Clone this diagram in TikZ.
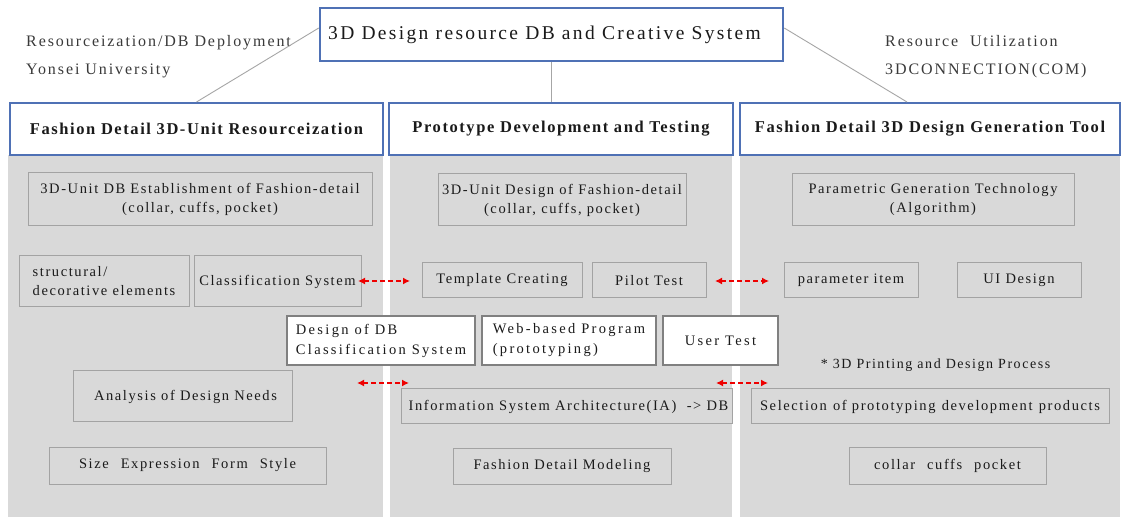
\documentclass[tikz,border=0pt]{standalone}
\usepackage{fontspec}
\setmainfont{Liberation Serif}
\newfontfamily\bodyf{Liberation Serif}[LetterSpace=11]
\newfontfamily\wbf{Liberation Serif}[LetterSpace=16]
\newfontfamily\headf{Liberation Serif}[LetterSpace=9.5]
\newfontfamily\labf{Liberation Serif}[LetterSpace=12]
\newfontfamily\titf{Liberation Serif}[LetterSpace=12]
\usetikzlibrary{arrows.meta}
\definecolor{panelgray}{HTML}{D9D9D9}
\definecolor{boxline}{HTML}{A3A3A3}
\definecolor{hdrblue}{HTML}{4F71B5}
\definecolor{wline}{HTML}{808080}
\definecolor{linkgray}{HTML}{A6A6A6}
\definecolor{arrred}{HTML}{EE0000}
\definecolor{txt}{HTML}{1A1A1A}
\definecolor{labtxt}{HTML}{3A3A3A}
\newcommand\mkbox[7]{%
  \pgfmathsetmacro\bw{#5-#3}\pgfmathsetmacro\bh{#6-#4}%
  \node[#1, minimum width=\bw pt, minimum height=\bh pt] (#2) at ({(#3+#5)/2},{(#4+#6)/2}) {#7};}
\tikzset{
  panel/.style={fill=panelgray, draw=none, inner sep=0pt},
  hdr/.style={draw=hdrblue, line width=2pt, fill=white, inner sep=0pt, text=txt,
    font=\headf\bfseries\fontsize{16.5}{19}\selectfont},
  titlebox/.style={draw=hdrblue, line width=2.5pt, fill=white, inner sep=0pt, text=txt,
    font=\titf\fontsize{19.5}{22}\selectfont},
  ibox/.style={draw=boxline, line width=1pt, fill=panelgray, inner sep=0pt, align=center, text=txt,
    font=\bodyf\fontsize{14.5}{19}\selectfont},
  wbox/.style={draw=wline, line width=2.5pt, fill=white, inner sep=0pt, align=left, text=txt,
    font=\wbf\fontsize{14.5}{20}\selectfont},
  lab/.style={anchor=base west, inner sep=0pt, text=labtxt, font=\labf\fontsize{16}{19}\selectfont},
  note/.style={inner sep=0pt, text=txt, font=\bodyf\fontsize{14}{19}\selectfont},
  link/.style={draw=linkgray, line width=0.9pt},
  darr/.style={draw=arrred, line width=2pt, dash pattern=on 5pt off 3pt,
    {Latex[length=7pt,width=7pt]}-{Latex[length=7pt,width=7pt]}}
}
\begin{document}
\begin{tikzpicture}[x=1pt,y=-1pt]
\useasboundingbox[fill=white] (0,0) rectangle (1122,518);
% panels
\mkbox{panel}{pL}{8}{155}{383}{517}{}
\mkbox{panel}{pM}{390}{155}{732}{517}{}
\mkbox{panel}{pR}{740}{155}{1120}{517}{}
% title and headers
\mkbox{titlebox}{title}{320}{8}{783}{61}{3D Design resource DB and Creative System\hspace*{14pt}}
\mkbox{hdr}{hdrL}{10}{103}{383}{155}{Fashion Detail 3D-Unit Resourceization}
\mkbox{hdr}{hdrM}{389}{103}{733}{155}{Prototype Development and Testing}
\mkbox{hdr}{hdrR}{740}{103}{1120}{155}{Fashion Detail 3D Design Generation Tool}
% top labels
\node[lab] (labL1) at (26,47) {Resourceization/DB\ Deployment};
\node[lab] (labL2) at (26,75) {Yonsei\ University};
\node[lab] (labR1) at (885,47) {Resource\ \ Utilization};
\node[lab] (labR2) at (885,75) {3DCONNECTION(COM)};
% links
\draw[link] ([yshift=6.5pt]title.west) -- (hdrL.north);
\draw[link] (title.south) -- (title.south |- hdrM.north);
\draw[link] ([yshift=6.5pt]title.east) -- ([xshift=-23pt]hdrR.north);
% left column
\mkbox{ibox}{l1}{28}{173}{372}{226}{3D-Unit DB Establishment\ of Fashion-detail\\(collar,\ cuffs, pocket)}
\mkbox{ibox,align=left}{l2}{19}{256}{189}{307}{structural/\\decorative\ elements}
\mkbox{ibox}{clsys}{194}{256}{361}{307}{Classification\ System}
\mkbox{ibox}{l4}{73}{371}{292}{422}{\hspace*{6pt}Analysis of Design Needs}
\mkbox{ibox}{l5}{49}{447}{326}{484}{Size\hspace{12pt}Expression\hspace{12pt}Form\hspace{12pt}Style}
% middle column
\mkbox{ibox}{m1}{438}{174}{686}{226}{3D-Unit Design of Fashion-detail\\(collar,\ cuffs, pocket)}
\mkbox{ibox}{tmpl}{422}{263}{582}{298}{Template\ Creating}
\mkbox{ibox}{pilot}{592}{263}{706}{298}{Pilot Test}
\mkbox{ibox}{isa}{401}{389}{732}{424}{\hspace*{4pt}Information System Architecture(IA)\ \ -> DB}
\mkbox{ibox}{fdm}{453}{448}{671}{484}{Fashion Detail Modeling}
% right column
\mkbox{ibox}{r1}{792}{174}{1074}{226}{Parametric Generation Technology\\(Algorithm)}
\mkbox{ibox}{param}{784}{263}{918}{298}{parameter\ item}
\mkbox{ibox}{ui}{957}{263}{1081}{298}{UI\ Design}
\node[note] (printnote) at (935.5,365) {* 3D Printing and Design Process};
\mkbox{ibox}{sel}{751}{389}{1109}{424}{Selection\hspace{1pt} of prototyping\hspace{1pt} development\hspace{1pt} products}
\mkbox{ibox}{ccp}{849}{447}{1046}{484}{collar\hspace{12pt}cuffs\hspace{12pt}pocket}
% white boxes
\mkbox{wbox}{wdb}{287}{316}{475}{365}{Design of DB\\Classification System}
\mkbox{wbox}{wweb}{482}{316}{656}{365}{Web-based Program\\(prototyping)}
\mkbox{wbox,align=center}{wuser}{663}{316}{778}{365}{User Test}
% arrows
\coordinate (a1l) at (358,281);
\coordinate (a1r) at (410,281);
\coordinate (a2l) at (715,281);
\coordinate (a2r) at (769,281);
\coordinate (a3l) at (357,383);
\coordinate (a3r) at (409,383);
\coordinate (a4l) at (716,383);
\coordinate (a4r) at (768,383);
\draw[darr] (a1l) -- (a1r);
\draw[darr] (a2l) -- (a2r);
\draw[darr] (a3l) -- (a3r);
\draw[darr] (a4l) -- (a4r);
\end{tikzpicture}
\end{document}
